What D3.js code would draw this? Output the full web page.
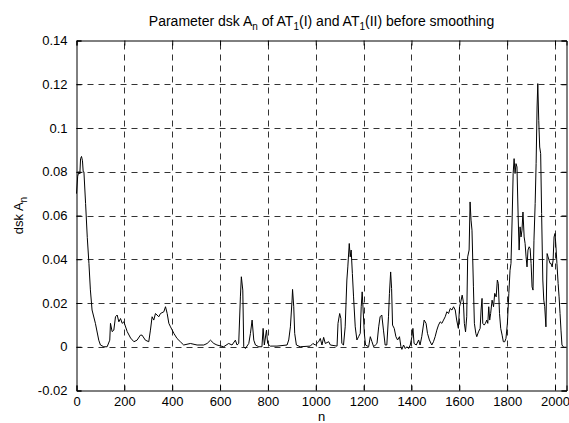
<!DOCTYPE html>
<html>
<head>
<meta charset="utf-8">
<script src="https://cdn.jsdelivr.net/npm/d3@7"></script>
<style>
  html, body { margin: 0; padding: 0; background: #fff; }
  svg { display: block; }
  text { font-family: "Liberation Sans", Arial, Helvetica, sans-serif; fill: #000; }
</style>
</head>
<body>
<svg id="chart" width="569" height="423"></svg>
<script>
// ---- data ----
const nVals = [0,5,10,14,17,21,25,28,31,38,45,52,58,65,79,93,100,114,128,139,142,149,156,163,170,177,184,191,198,212,226,240,253,267,274,288,302,309,316,323,330,344,351,365,372,379,386,393,407,420,434,448,476,504,532,546,560,574,587,615,636,650,664,671,678,685,689,695,699,706,720,727,734,741,748,762,775,780,785,794,799,810,838,880,887,894,901,903,908,912,919,935,977,988,998,1012,1019,1026,1033,1040,1054,1061,1089,1093,1100,1105,1109,1116,1123,1130,1134,1140,1144,1148,1153,1158,1165,1172,1179,1186,1190,1194,1198,1203,1208,1221,1228,1235,1242,1249,1256,1263,1269,1276,1283,1290,1297,1304,1308,1313,1317,1321,1328,1335,1342,1350,1356,1360,1367,1374,1381,1388,1395,1402,1406,1411,1420,1430,1436,1443,1453,1461,1467,1475,1485,1492,1499,1506,1513,1520,1527,1534,1541,1548,1555,1562,1569,1576,1583,1589,1596,1601,1606,1612,1617,1621,1626,1631,1635,1641,1645,1649,1653,1659,1663,1669,1673,1680,1687,1691,1695,1698,1704,1709,1715,1719,1723,1727,1731,1737,1743,1748,1754,1759,1763,1768,1773,1779,1784,1790,1795,1801,1807,1812,1816,1821,1825,1829,1833,1837,1841,1846,1850,1854,1858,1862,1866,1871,1875,1879,1883,1887,1892,1896,1900,1904,1908,1912,1917,1921,1925,1928,1932,1936,1940,1944,1949,1953,1957,1962,1967,1971,1975,1979,1983,1988,1992,1996,2000,2004,2008,2013,2017,2021,2025,2029,2035];
const dskVals = [0.070,0.078,0.080,0.079,0.086,0.087,0.085,0.080,0.080,0.0655,0.050,0.038,0.026,0.0168,0.0107,0.003,0.0008,0,0,0.003,0.0107,0.0069,0.0076,0.0137,0.0145,0.0114,0.0129,0.0107,0.0114,0.0069,0.004,0.0023,0.003,0.0053,0.0053,0.003,0.0023,0.0076,0.0137,0.0122,0.0152,0.0137,0.0152,0.016,0.0183,0.0152,0.0107,0.0091,0.0061,0.0038,0.0023,0.0008,0.0015,0.0008,0.0008,0.0015,0.003,0.0015,0.0008,0,0.0015,0.0008,0.003,0.0008,0.0015,0.0228,0.032,0.0259,0,-0.0008,0.0015,0.0061,0.0122,0.003,0.0008,0,0,0.0084,0.0008,0.0076,0.0015,0.0003,0.0003,0.0008,0.0031,0.0091,0.0213,0.0262,0.0183,0.0061,0.0008,0,0.0003,0.0015,0.0008,0.0023,0.0038,0.0008,0.0043,0.0015,0.0023,0.0008,0.0003,0.0107,0.0152,0.0129,0.0015,0.0008,0.0091,0.0305,0.0365,0.0472,0.0411,0.0442,0.0335,0.0228,0.0091,0.0031,0.0046,0.0061,0.0183,0.0251,0.0168,0.0061,0.0008,0,0.0046,0.0023,0,0.0008,0.0015,0.0091,0.0137,0.0145,0.0076,0.0008,0.0008,0.0137,0.0244,0.0342,0.0266,0.0099,0.0084,0.0046,0.0031,0.0046,0,-0.0012,0.0008,-0.0008,0,-0.0008,0.0008,0.0046,0.0084,0.0015,0.0008,0.0031,0.0008,0.0046,0.0122,0.0107,0.0061,0.0031,0.0008,0.0023,0.0046,0.0076,0.0099,0.0114,0.0107,0.0122,0.0137,0.016,0.0152,0.0175,0.0168,0.0183,0.0168,0.0122,0.0084,0.0183,0.0205,0.0236,0.0205,0.0107,0.0068,0.0137,0.0411,0.0442,0.0662,0.0579,0.0533,0.0274,0.0107,0.0061,0.0046,0.0068,0.0084,0.0168,0.0221,0.0107,0.0099,0.0107,0.0122,0.0107,0.0183,0.0122,0.0152,0.0213,0.0183,0.0244,0.0228,0.0305,0.0289,0.0152,0.0084,0.0053,0.0023,0.0023,0.0038,0.0107,0.0244,0.035,0.0381,0.0594,0.0792,0.086,0.0792,0.0837,0.0822,0.0594,0.0442,0.0548,0.0502,0.0533,0.0616,0.0502,0.0472,0.0411,0.0365,0.0442,0.0457,0.0449,0.0381,0.0274,0.0259,0.0487,0.0655,0.0837,0.1096,0.1203,0.1035,0.0913,0.0883,0.0609,0.0305,0.0213,0.0183,0.0091,0.0426,0.0411,0.0396,0.0381,0.0381,0.0365,0.0396,0.0502,0.0518,0.0457,0.0381,0.0289,0.0228,0.0152,0.0076,0.0008,0];
const xTicks = [0,200,400,600,800,1000,1200,1400,1600,1800,2000];
const yTicks = [-0.02,0,0.02,0.04,0.06,0.08,0.1,0.12,0.14];
const yTickLabels = ["-0.02","0","0.02","0.04","0.06","0.08","0.1","0.12","0.14"];
const xDomain = [0, 2048];
const yDomain = [-0.02, 0.14];

// ---- layout ----
const L = 76.5, R = 566.5, T = 40.5, B = 390.5;
const svg = d3.select("#chart");
const x = d3.scaleLinear().domain(xDomain).range([L, R]);
const y = d3.scaleLinear().domain(yDomain).range([B, T]);

// grid
const grid = svg.append("g").attr("stroke", "#333").attr("stroke-width", 1)
  .attr("stroke-dasharray", "6,5").attr("fill", "none");
xTicks.filter(d => d > xDomain[0]).forEach(d => {
  grid.append("line").attr("x1", Math.round(x(d)) + 0.5).attr("x2", Math.round(x(d)) + 0.5)
    .attr("y1", B).attr("y2", T);
});
yTicks.filter(d => d > yDomain[0] && d < yDomain[1]).forEach(d => {
  grid.append("line").attr("y1", Math.round(y(d)) + 0.5).attr("y2", Math.round(y(d)) + 0.5)
    .attr("x1", L).attr("x2", R);
});

// data line
const pts = nVals.map((n, i) => [n, dskVals[i]]);
svg.append("path").datum(pts)
  .attr("fill", "none").attr("stroke", "#000").attr("stroke-width", 1)
  .attr("d", d3.line().x(d => x(d[0])).y(d => y(d[1])));

// axes (MATLAB-like: inward ticks, box)
const tl = 5;
const xAxisB = d3.axisBottom(x).tickValues(xTicks).tickSize(-tl).tickPadding(tl + 1).tickFormat(d3.format("d"));
const xAxisT = d3.axisTop(x).tickValues(xTicks).tickSize(-tl).tickFormat("");
const yAxisL = d3.axisLeft(y).tickValues(yTicks).tickSize(-tl).tickPadding(tl + 4).tickFormat((d, i) => yTickLabels[i]);
const yAxisR = d3.axisRight(y).tickValues(yTicks).tickSize(-tl).tickFormat("");

function style(g) {
  g.selectAll(".domain").attr("stroke", "#000").attr("stroke-width", 1);
  g.selectAll(".tick line").attr("stroke", "#000");
  g.selectAll(".tick text").style("font-size", "13px").style("font-family", "'Liberation Sans', Arial, sans-serif").attr("fill", "#000");
}
svg.append("g").attr("transform", `translate(0,${B})`).call(xAxisB).call(style);
svg.append("g").attr("transform", `translate(0,${T})`).call(xAxisT).call(style);
svg.append("g").attr("transform", `translate(${L},0)`).call(yAxisL).call(style);
svg.append("g").attr("transform", `translate(${R},0)`).call(yAxisR).call(style);
svg.selectAll(".domain").each(function() { d3.select(this).attr("d", d3.select(this).attr("d").replace(/V-?\d+(\.\d+)?V/, "V")); });

// title
const title = svg.append("text").attr("x", (L + R) / 2).attr("y", 26)
  .attr("text-anchor", "middle").style("font-size", "14px");
title.append("tspan").text("Parameter dsk A");
title.append("tspan").text("n").style("font-size", "10px").attr("dy", 4);
title.append("tspan").text(" of AT").attr("dy", -4);
title.append("tspan").text("1").style("font-size", "10px").attr("dy", 4);
title.append("tspan").text("(I) and AT").attr("dy", -4);
title.append("tspan").text("1").style("font-size", "10px").attr("dy", 4);
title.append("tspan").text("(II) before smoothing").attr("dy", -4);

// x label
svg.append("text").attr("x", (L + R) / 2).attr("y", 421).attr("text-anchor", "middle")
  .style("font-size", "13px").text("n");

// y label
const yl = svg.append("text").attr("transform", `translate(23,${(T + B) / 2}) rotate(-90)`)
  .attr("text-anchor", "middle").style("font-size", "13px");
yl.append("tspan").text("dsk A");
yl.append("tspan").text("n").style("font-size", "10px").attr("dy", 4);
</script>
</body>
</html>
